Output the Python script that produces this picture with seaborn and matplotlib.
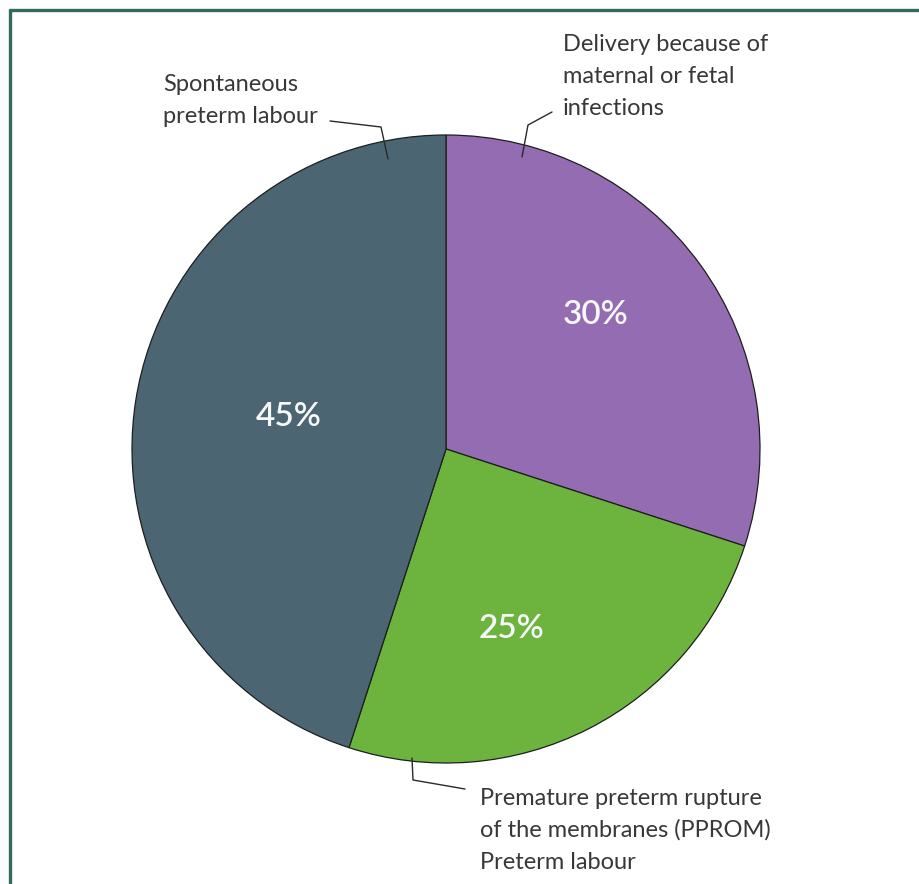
import matplotlib
matplotlib.use("Agg")
import matplotlib.pyplot as plt
from matplotlib.lines import Line2D
import numpy as np
import seaborn as sns

# Causes of preterm birth (share of all preterm deliveries, %)
categories = [
    "Delivery because of\nmaternal or fetal\ninfections",
    "Premature preterm rupture\nof the membranes (PPROM)\nPreterm labour",
    "Spontaneous\npreterm labour",
]
shares = [30, 25, 45]
pct_labels = ["30%", "25%", "45%"]
slice_colors = ["#946cb1", "#6db43f", "#4b6672"]

sns.set_theme(style="white")
plt.rcParams["font.family"] = ["Lato", "DejaVu Sans"]

W, H = 920, 884
fig = plt.figure(figsize=(W / 100, H / 100), dpi=100)
fig.patch.set_facecolor("white")
ax = fig.add_axes([0, 0, 1, 1])

# pixel-like data space, y measured upward
cx, cy, R = 446, H - 449, 314
palette = sns.color_palette(slice_colors)
wedges, _ = ax.pie(
    shares,
    colors=palette,
    startangle=90,
    counterclock=False,
    center=(cx, cy),
    radius=R,
    wedgeprops=dict(edgecolor="#1e1e1e", linewidth=0.9),
)
ax.set_xlim(0, W)
ax.set_ylim(0, H)
ax.set_aspect("equal")
ax.axis("off")

# percentage labels inside the slices (radius fraction, angle offset in degrees)
label_place = [(0.64, 6), (0.61, -7), (0.51, -2.5)]
for w, txt, (rf, dang) in zip(wedges, pct_labels, label_place):
    mid = np.deg2rad((w.theta1 + w.theta2) / 2 + dang)
    ax.text(cx + rf * R * np.cos(mid), cy + rf * R * np.sin(mid), txt,
            color="#f7f7f7", fontsize=24, fontweight="semibold",
            ha="center", va="center")

# category captions, one text per line, anchored at the first baseline
caption_pos = [(563, 51), (480, 805), (163, 91)]
line_gap = 32
for txt, (x0, y0) in zip(categories, caption_pos):
    for i, line in enumerate(txt.split("\n")):
        ax.text(x0, H - (y0 + i * line_gap), line, color="#383838",
                fontsize=17, ha="left", va="baseline")

# leader lines from captions to the rim
leaders = [
    [(552, 112), (528, 125), (522, 157)],
    [(465, 789), (413, 780), (412, 758)],
    [(330, 121), (381, 127), (388, 159)],
]
for pts in leaders:
    xs = [p[0] for p in pts]
    ys = [H - p[1] for p in pts]
    ax.plot(xs, ys, color="#2a2a2a", linewidth=1.0, solid_capstyle="round")

# panel rule along the top and left edges
frame_col = "#2f6b5c"
fig.add_artist(Line2D([10 / W, 1], [1 - 9.5 / H, 1 - 9.5 / H],
                      transform=fig.transFigure, color=frame_col, linewidth=2.4))
fig.add_artist(Line2D([10.5 / W, 10.5 / W], [0, 1 - 9.5 / H],
                      transform=fig.transFigure, color=frame_col, linewidth=2.4))

fig.savefig("out.png", dpi=100, facecolor="white")
